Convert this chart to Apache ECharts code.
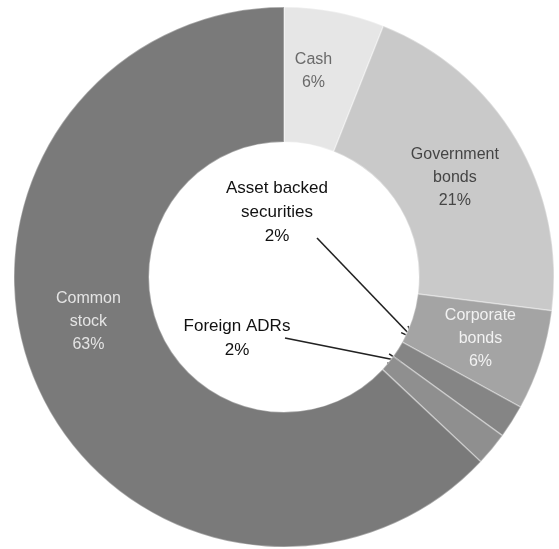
<!DOCTYPE html>
<html>
<head>
<meta charset="utf-8">
<script src="https://cdn.jsdelivr.net/npm/echarts@6/dist/echarts.min.js"></script>
<style>html,body{margin:0;padding:0;background:#fff}#c{width:559px;height:549px}</style>
</head>
<body>
<div id="c"></div>
<script>
const categories = ['Cash', 'Government\nbonds', 'Corporate\nbonds', 'Asset backed\nsecurities', 'Foreign ADRs', 'Common\nstock'];
const values = [6, 21, 6, 2, 2, 63];
const sliceColors = ['#e6e6e6', '#c9c9c9', '#a4a4a4', '#858585', '#8f8f8f', '#7a7a7a'];
const labelColors = ['#6a6a6a', '#454545', '#f2f2f2', '#111', '#111', '#e4e4e4'];

const cx = 284, cy = 277;
const labelSpots = {
  0: {dx: -9, dy: -4},
  1: {dx: -6, dy: 5},
  2: {dx: 1, dy: -2},
  5: {dx: -7, dy: -37}
};
const holeSpots = {3: {x: 277, y: 212}, 4: {x: 237, y: 338}};

function arrow(x1, y1, x2, y2) {
  const a = Math.atan2(y2 - y1, x2 - x1), L = 13, w = 0.38;
  return [
    {type: 'line', shape: {x1, y1, x2, y2}, style: {stroke: '#222', lineWidth: 1.6}},
    {type: 'polyline', shape: {points: [
      [x2 - L * Math.cos(a - w), y2 - L * Math.sin(a - w)], [x2, y2],
      [x2 - L * Math.cos(a + w), y2 - L * Math.sin(a + w)]]},
      style: {stroke: '#222', lineWidth: 1.6, fill: null}}
  ];
}

const chart = echarts.init(document.getElementById('c'), null, {renderer: 'canvas'});
chart.setOption({
  backgroundColor: '#fff',
  animation: false,
  series: [{
    type: 'pie',
    center: [cx, cy],
    radius: [135, 270],
    startAngle: 90,
    clockwise: true,
    avoidLabelOverlap: false,
    itemStyle: {borderColor: 'rgba(255,255,255,0.35)', borderWidth: 1.5},
    label: {
      show: true,
      position: 'inside',
      fontFamily: 'Liberation Sans, Arial, sans-serif',
      fontSize: 16,
      lineHeight: 23,
      formatter: p => p.name + '\n' + p.value + '%'
    },
    labelLine: {show: false},
    labelLayout: function (p) {
      if (holeSpots[p.dataIndex]) {
        return {x: holeSpots[p.dataIndex].x, y: holeSpots[p.dataIndex].y, align: 'center', verticalAlign: 'middle'};
      }
      return labelSpots[p.dataIndex] || {};
    },
    data: categories.map((n, i) => ({
      name: n,
      value: values[i],
      itemStyle: {color: sliceColors[i]},
      label: {color: labelColors[i], fontSize: (i === 3 || i === 4) ? 17 : 16, lineHeight: (i === 3 || i === 4) ? 24 : 23}
    }))
  }],
  graphic: [].concat(arrow(317, 238, 413, 338), arrow(285, 338, 400, 361))
});
</script>
</body>
</html>
